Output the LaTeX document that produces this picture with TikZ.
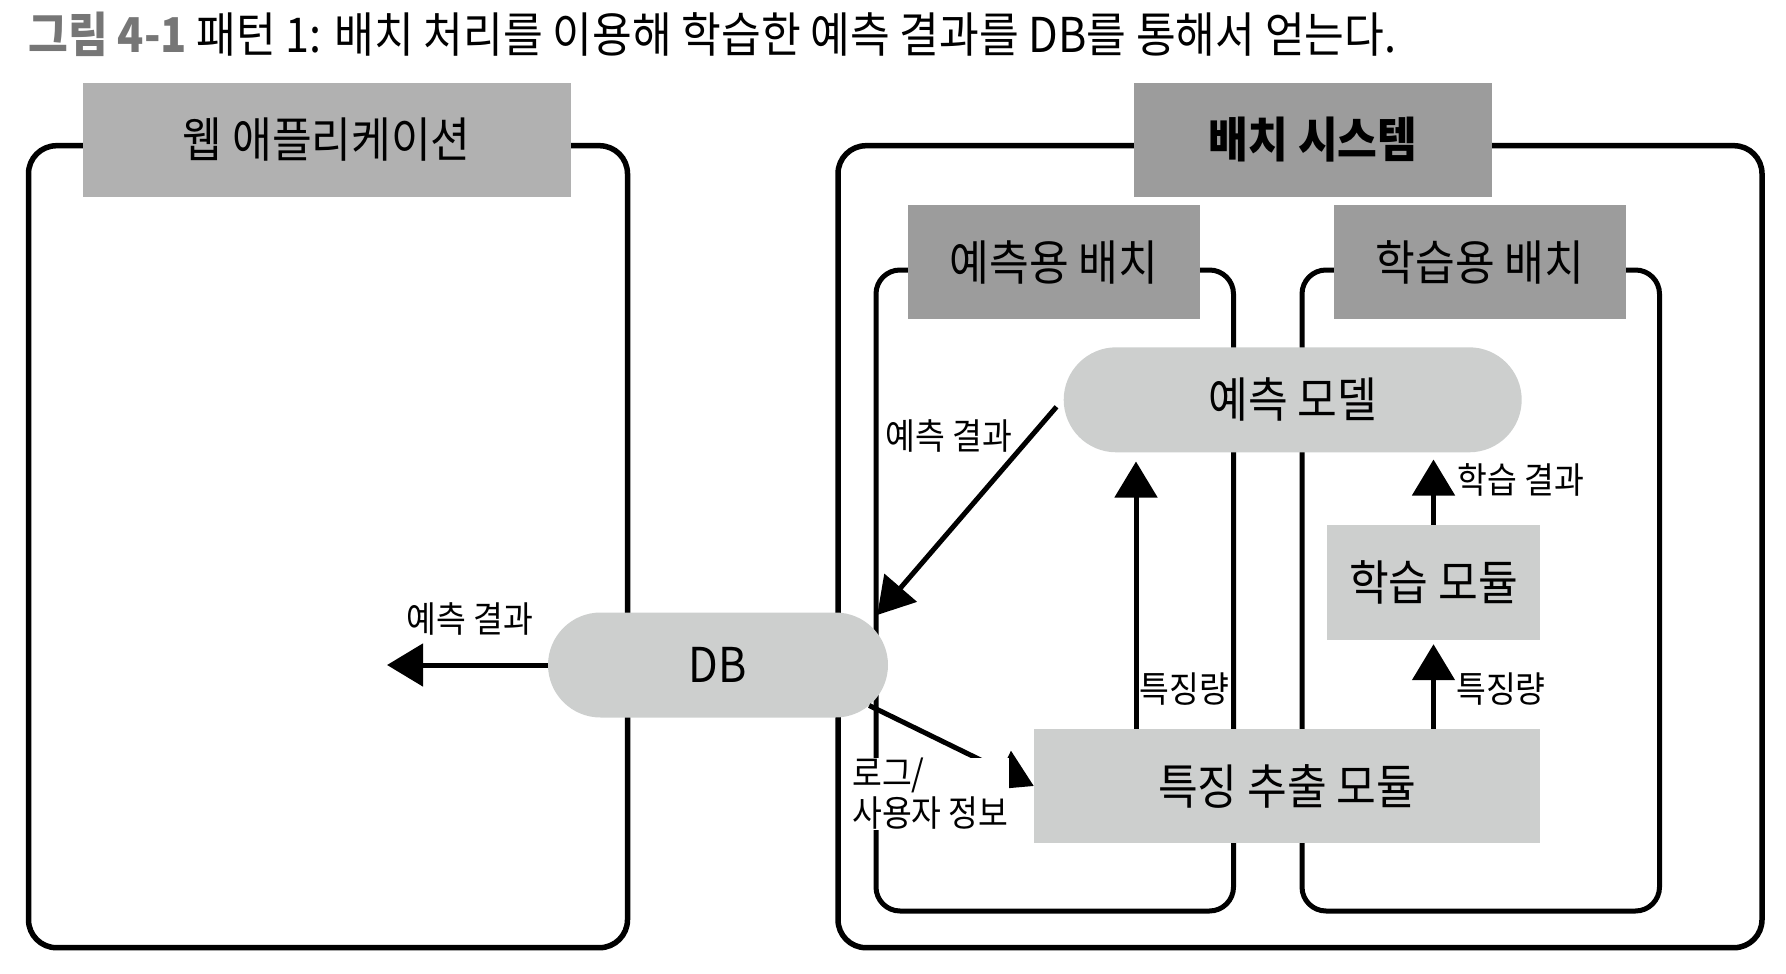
\documentclass[tikz,border=0pt]{standalone}
\usepackage{fontspec}
\setmainfont{Noto Sans CJK KR}[FakeStretch=0.9]
\usetikzlibrary{shapes.misc,arrows.meta,positioning,calc}
\definecolor{hdrlight}{RGB}{177,177,177}
\definecolor{hdrdark}{RGB}{156,156,156}
\definecolor{boxgray}{RGB}{205,207,206}
\definecolor{figgray}{RGB}{118,118,118}

\begin{document}
\begin{tikzpicture}[x=1pt, y=-1pt,
    container/.style={rectangle, rounded corners=28pt, draw=black, line width=5.5pt, inner sep=0pt},
    header/.style={rectangle, inner sep=0pt, minimum height=114pt, font=\fontsize{48}{56}\selectfont},
    module/.style={rectangle, fill=boxgray, inner sep=0pt, font=\fontsize{48}{56}\selectfont},
    store/.style={rounded rectangle, fill=boxgray, inner sep=0pt, font=\fontsize{48}{56}\selectfont},
    lbl/.style={font=\fontsize{36}{40}\selectfont, inner sep=1pt},
    flow/.style={line width=5pt, -{Triangle[length=36pt, width=42pt]}}
]
    \useasboundingbox (0,0) rectangle (1786,974);

    % Title
    \node[anchor=west, font=\fontsize{48}{56}\selectfont] (title) at (25,34)
        {\textcolor{figgray}{\bfseries 그림 4-1}\ 패턴 1: 배치 처리를 이용해 학습한 예측 결과를 DB를 통해서 얻는다.};

    % Outer systems
    \node[container, minimum width=599pt, minimum height=802pt] (webbox) at (328,546.7) {};
    \node[container, minimum width=924pt, minimum height=802pt] (batchbox) at (1300,546.7) {};
    \node[header, fill=hdrlight, minimum width=488pt] (webhdr) at (326.8,140) {웹 애플리케이션};
    \node[header, fill=hdrdark, minimum width=358pt, font=\fontsize{48}{56}\selectfont\bfseries] (batchhdr) at (1313,140) {배치 시스템};

    % Inner batches
    \foreach \nm/\cx/\txt in {pred/1054.75/예측용 배치, train/1480.75/학습용 배치} {
        \node[container, line width=5pt, rounded corners=24pt, minimum width=357.5pt, minimum height=641pt]
            (\nm-box) at (\cx,590.5) {};
        \node[header, fill=hdrdark, minimum width=292pt] (\nm-hdr) at (\cx-1,262) {\txt};
    }

    % Modules
    \node[store, minimum width=458pt, minimum height=105pt] (pmodel) at (1292.7,399.8) {예측 모델};
    \node[module, minimum width=213pt, minimum height=115pt] (trainmod) at (1433.5,582.5) {학습 모듈};
    \node[module, minimum width=506pt, minimum height=114pt] (featmod) at (1287,786) {특징 추출 모듈};
    \node[store, minimum width=340pt, minimum height=105pt] (db) at (718,665) {DB};

    % Data flow
    \coordinate (webend) at (387,665);
    \coordinate (dbin) at ($(db.east)+(-11,-50)$);
    \draw[flow] (db.west) -- (webend);
    \draw[flow] ([shift={(-7,7)}]pmodel.west) -- (dbin);
    \draw[flow] (db.-15) -- (featmod.west);
    \draw[flow, shorten >=9pt] ([xshift=-151pt]featmod.north) -- ([xshift=-151pt]featmod.north |- pmodel.south);
    \draw[flow, shorten >=4pt] (featmod.north -| trainmod.south) -- (trainmod.south);
    \draw[flow, shorten >=7pt] (trainmod.north) -- (trainmod.north |- pmodel.south);

    % Labels
    \node[lbl] (lblweb) at (470,618.5) {예측 결과};
    \node[lbl] (lblpred) at (949,436) {예측 결과};
    \node[lbl, anchor=west, align=left, fill=white, inner sep=0pt] (lbllog) at (852,794) {로그/\\사용자 정보};
    \node[lbl] (lblfeat1) at (1184.6,689) {특징량};
    \node[lbl] (lblfeat2) at (1501,689) {특징량};
    \node[lbl] (lbltrain) at (1520.6,479.5) {학습 결과};
\end{tikzpicture}
\end{document}
